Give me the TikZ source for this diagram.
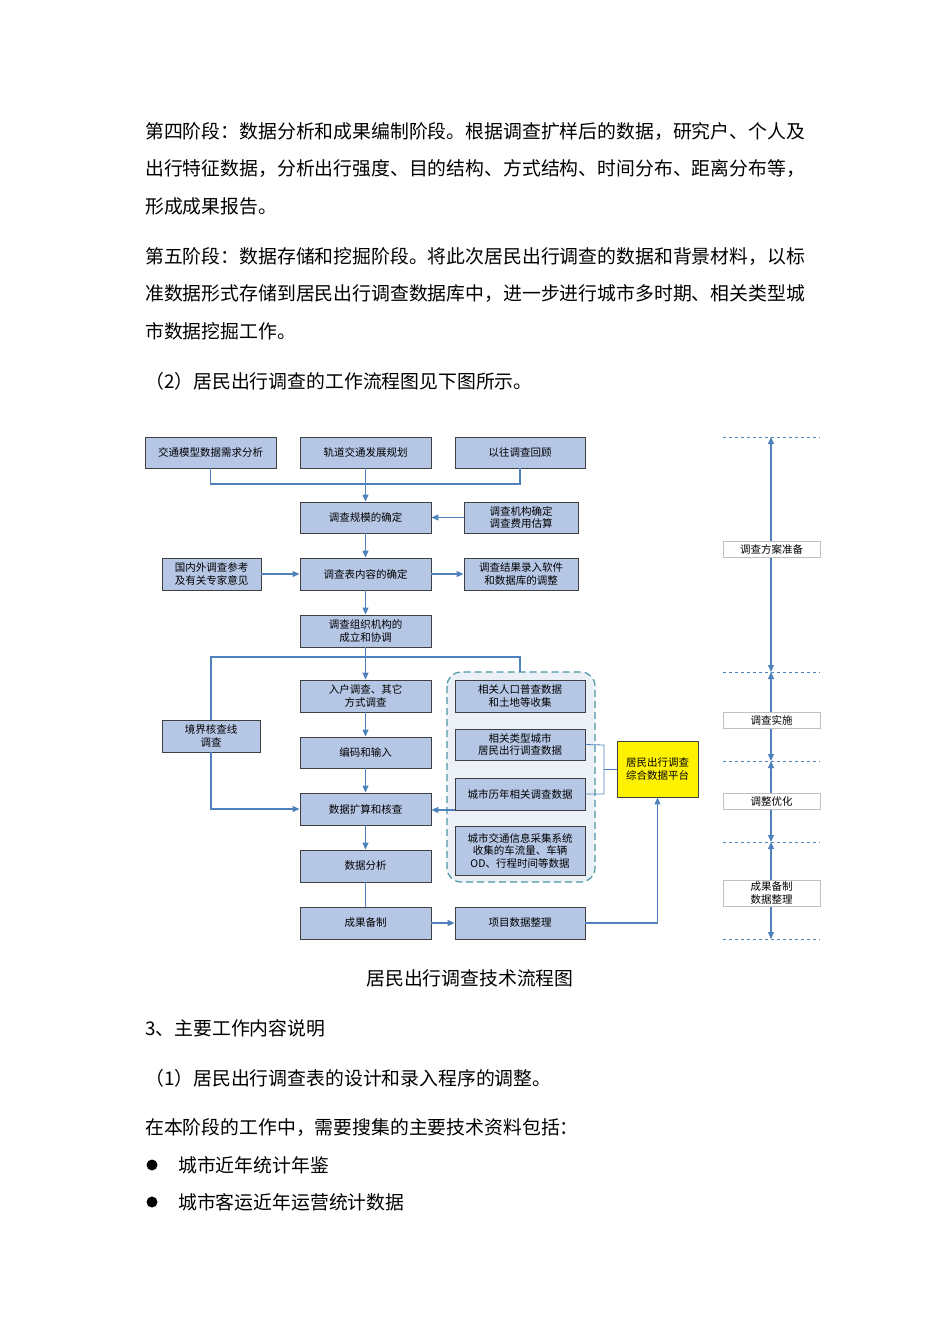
\documentclass[tikz,border=0pt]{standalone}
\usepackage{fontspec}
\setmainfont{Noto Sans CJK SC}
\usetikzlibrary{arrows.meta}
\definecolor{bfill}{RGB}{182,199,230}
\definecolor{bline}{RGB}{79,129,189}
\definecolor{gteal}{RGB}{75,150,165}
\definecolor{gfill}{RGB}{236,241,247}
\begin{document}
\begin{tikzpicture}[x=1pt,y=-1pt,
  bx/.style={draw=black!75,fill=bfill,line width=0.9pt,inner sep=0pt,align=center,font=\fontsize{10.5}{12.5}\selectfont},
  lbx/.style={draw=black!25,fill=white,line width=0.6pt,inner sep=0pt,align=center,font=\fontsize{10.5}{12.5}\selectfont},
  bt/.style={anchor=west,inner sep=0pt,font=\fontsize{18.85}{20}\selectfont},
  ln/.style={draw=bline,line width=1.1pt},
  ar/.style={ln,-{Triangle[width=6pt,length=7pt]}},
  dar/.style={ln,{Triangle[width=6pt,length=7pt]}-{Triangle[width=6pt,length=7pt]}},
  dl/.style={draw=bline,dashed,line width=0.6pt}]
\useasboundingbox (0,0) rectangle (950,1344);
% body text
\node[bt] (t1) at (145,132) {第四阶段：数据分析和成果编制阶段。根据调查扩样后的数据，研究户、个人及};
\node[bt] (t2) at (145,169) {出行特征数据，分析出行强度、目的结构、方式结构、时间分布、距离分布等，};
\node[bt] (t3) at (145,206) {形成成果报告。};
\node[bt] (t4) at (145,257) {第五阶段：数据存储和挖掘阶段。将此次居民出行调查的数据和背景材料，以标};
\node[bt] (t5) at (145,294) {准数据形式存储到居民出行调查数据库中，进一步进行城市多时期、相关类型城};
\node[bt] (t6) at (145,331) {市数据挖掘工作。};
\node[bt] (t7) at (145,381) {（2）居民出行调查的工作流程图见下图所示。};
\node[inner sep=0pt,font=\fontsize{18.85}{20}\selectfont] (cap) at (470,978) {居民出行调查技术流程图};
\node[bt] (t8) at (145,1028) {3、主要工作内容说明};
\node[bt] (t9) at (145,1078) {（1）居民出行调查表的设计和录入程序的调整。};
\node[bt] (t10) at (145,1128) {在本阶段的工作中，需要搜集的主要技术资料包括：};
\fill (152,1165) circle (5.5) coordinate (b1);
\fill (152,1202) circle (5.5) coordinate (b2);
\node[bt] (t11) at (178,1165) {城市近年统计年鉴};
\node[bt] (t12) at (178,1202) {城市客运近年运营统计数据};
% group
\draw[gteal,fill=gfill,dashed,line width=1.2pt,dash pattern=on 7pt off 4pt,rounded corners=14pt] (447,672) rectangle (595,882);
% boxes
\node[bx,minimum width=131,minimum height=31] (A) at (210.5,452.5) {交通模型数据需求分析};
\node[bx,minimum width=131,minimum height=31] (B) at (365.5,452.5) {轨道交通发展规划};
\node[bx,minimum width=130,minimum height=31] (C) at (520,452.5) {以往调查回顾};
\node[bx,minimum width=131,minimum height=31] (D) at (365.5,517.5) {调查规模的确定};
\node[bx,minimum width=114,minimum height=31] (E) at (521,517.5) {调查机构确定\\调查费用估算};
\node[bx,minimum width=131,minimum height=32] (F) at (365.5,574) {调查表内容的确定};
\node[bx,minimum width=99,minimum height=32] (G) at (211.5,574) {国内外调查参考\\及有关专家意见};
\node[bx,minimum width=114,minimum height=32] (H) at (521,574) {调查结果录入软件\\和数据库的调整};
\node[bx,minimum width=131,minimum height=32] (I) at (365.5,631) {调查组织机构的\\成立和协调};
\node[bx,minimum width=131,minimum height=32] (J) at (365.5,696) {入户调查、其它\\方式调查};
\node[bx,minimum width=98,minimum height=32] (K) at (211,736) {境界核查线\\调查};
\node[bx,minimum width=131,minimum height=31] (L) at (365.5,752.5) {编码和输入};
\node[bx,minimum width=131,minimum height=32] (M) at (365.5,809) {数据扩算和核查};
\node[bx,minimum width=131,minimum height=32] (N) at (365.5,866) {数据分析};
\node[bx,minimum width=131,minimum height=32] (O) at (365.5,923) {成果备制};
\node[bx,minimum width=130,minimum height=32] (P) at (520,923) {项目数据整理};
\node[bx,minimum width=130,minimum height=32] (R1) at (520,696) {相关人口普查数据\\和土地等收集};
\node[bx,minimum width=130,minimum height=31] (R2) at (520,744.5) {相关类型城市\\居民出行调查数据};
\node[bx,minimum width=130,minimum height=32] (R3) at (520,794) {城市历年相关调查数据};
\node[bx,minimum width=130,minimum height=49] (R4) at (520,850.5) {城市交通信息采集系统\\收集的车流量、车辆\\OD、行程时间等数据};
\node[bx,fill=yellow,minimum width=81,minimum height=56] (Q) at (657.5,769) {居民出行调查\\综合数据平台};
% connectors
\coordinate (m1) at (365.5,484);
\draw[ln] (A.south) |- (m1) -| (C.south);
\draw[ln] (B.south) -- (m1);
\draw[ar] (m1) -- (D.north);
\draw[ar] (E.west) -- (D.east);
\draw[ar] (D.south) -- (F.north);
\draw[ar] (G.east) -- (F.west);
\draw[ar] (F.east) -- (H.west);
\draw[ar] (F.south) -- (I.north);
\coordinate (m2) at (365.5,657);
\coordinate (gtop) at (520,672);
\draw[ln] (I.south) -- (m2);
\draw[ln] (K.north) |- (m2) -| (gtop);
\draw[ar] (m2) -- (J.north);
\draw[ar] (J.south) -- (L.north);
\draw[ar] (L.south) -- (M.north);
\draw[ar] (K.south) |- (M.west);
\draw[ar] (R3.south west) ++(0,-0.5) coordinate (r3l) -- (M.east|-r3l);
\draw[ar] (M.south) -- (N.north);
\draw[ln] (N.south) -- (O.north);
\draw[ar] (O.east) -- (P.west);
\draw[ar] (P.east) -| (Q.south);
\coordinate (k1) at (604,745);
\coordinate (k2) at (604,794);
\draw[ln,line width=0.8pt] (R2.east) -- (k1) -- (k2) -- (R3.east);
\draw[ln,line width=0.8pt] (604,769) -- (Q.west);
% timeline
\foreach \y/\n in {437/d1,672/d2,761/d3,842/d4,939/d5}{\draw[dl] (723,\y) -- (820,\y); \coordinate (\n) at (771,\y);}
\draw[dar] (d1) -- (d2);
\draw[dar] (d2) -- (d3);
\draw[dar] (d3) -- (d4);
\draw[dar] (d4) -- (d5);
\node[lbx,minimum width=97,minimum height=16] (s1) at (771.5,549) {调查方案准备};
\node[lbx,minimum width=97,minimum height=16] (s2) at (771.5,720) {调查实施};
\node[lbx,minimum width=97,minimum height=16] (s3) at (771.5,801) {调整优化};
\node[lbx,minimum width=97,minimum height=26] (s4) at (771.5,893) {成果备制\\数据整理};
\end{tikzpicture}
\end{document}
